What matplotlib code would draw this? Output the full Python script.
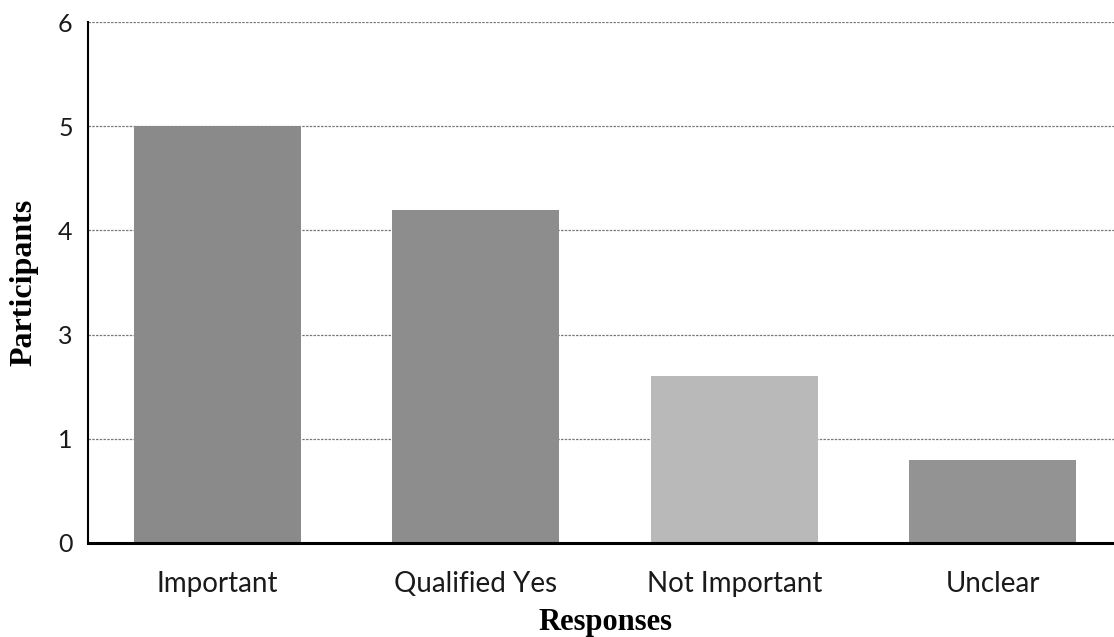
import matplotlib.pyplot as plt

# responses and bar heights, measured in gridline steps
categories = ["Important", "Qualified Yes", "Not Important", "Unclear"]
heights = [4.0, 3.2, 1.6, 0.8]
# tick labels as printed on the chart (the "2" is missing in the original)
ytick_labels = ["0", "1", "3", "4", "5", "6"]
bar_colors = ["#8a8a8a", "#8d8d8d", "#b9b9b9", "#939393"]


def plot_chart():
    fig = plt.figure(figsize=(11.14, 6.37), dpi=100)
    ax = fig.add_axes([88 / 1114, 1 - 543 / 637, 1034 / 1114, 521 / 637])

    x = range(len(categories))
    ax.bar(x, heights, width=0.645, color=bar_colors, zorder=2)

    ax.set_xlim(-0.5, 3.5)
    ax.set_ylim(0, 5)
    ax.set_yticks(range(len(ytick_labels)))
    ax.set_yticklabels(ytick_labels)
    ax.set_xticks(list(x))
    ax.set_xticklabels(categories)

    ax.grid(axis="y", color="#7a7a7a", linestyle=(0, (2, 1)), linewidth=0.9, zorder=1)
    ax.set_axisbelow(True)

    for side in ["top", "right"]:
        ax.spines[side].set_visible(False)
    ax.spines["left"].set_linewidth(1.5)
    ax.spines["bottom"].set_linewidth(2.2)
    ax.spines["left"].set_zorder(3)
    ax.spines["bottom"].set_zorder(3)

    ax.tick_params(axis="y", length=0, pad=11, labelsize=18, colors="#1a1a1a")
    ax.tick_params(axis="x", length=0, pad=20, labelsize=20, colors="#1a1a1a")
    for lab in ax.get_xticklabels() + ax.get_yticklabels():
        lab.set_family("Lato")

    ax.set_xlabel("Responses", family="Liberation Serif", fontweight="bold",
                  fontsize=22, labelpad=8)
    ax.set_ylabel("Participants", family="Liberation Serif", fontweight="bold",
                  fontsize=23, labelpad=14)

    fig.savefig("out.png", dpi=100)


if __name__ == "__main__":
    plot_chart()
